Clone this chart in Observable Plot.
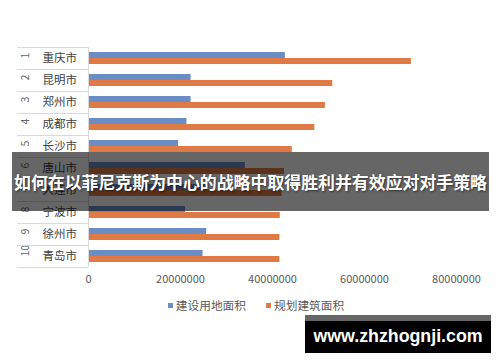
<!DOCTYPE html>
<html><head><meta charset="utf-8">
<script src="https://cdn.jsdelivr.net/npm/d3@7"></script>
<script src="https://cdn.jsdelivr.net/npm/@observablehq/plot@0.6"></script>
<style>
body{margin:0;background:#fff;}
#wrap{position:relative;width:500px;height:362px;overflow:hidden;font-family:"Noto Sans CJK SC","Noto Sans",sans-serif;}
#wrap svg{position:absolute;left:0;top:0;}
#legend{position:absolute;left:6px;top:296px;width:500px;text-align:center;font-size:11.7px;color:#595959;line-height:18px;white-space:nowrap;}
#legend span.sw{display:inline-block;width:5px;height:5px;margin-right:3px;vertical-align:middle;position:relative;top:-1px;}
#legend span.item{margin:0 10px;}
#banner{position:absolute;left:12px;top:152px;width:477px;height:59px;background:rgba(0,0,0,0.6);color:#fff;font-weight:bold;font-size:16.9px;line-height:59px;text-align:center;white-space:nowrap;text-shadow:1px 1px 2px rgba(0,0,0,0.5);}
#wm{position:absolute;left:305px;top:315px;width:186px;height:38px;background:#000;border-top:6px solid #666;box-sizing:border-box;color:#fff;font-family:"Liberation Sans",Arial,sans-serif;font-weight:bold;font-size:17.8px;line-height:31px;text-align:center;white-space:nowrap;}
</style></head><body><div id="wrap"></div>
<script>
const ranks = ["1","2","3","4","5","6","7","8","9","10"];
const cities = ["重庆市","昆明市","郑州市","成都市","长沙市","唐山市","大连市","宁波市","徐州市","青岛市"];
const landArea = [42.8e6, 22.3e6, 22.3e6, 21.4e6, 19.6e6, 34.1e6, 26.0e6, 21.1e6, 25.7e6, 24.9e6];
const buildArea = [70.2e6, 53.1e6, 51.5e6, 49.2e6, 44.3e6, 42.6e6, 42.1e6, 41.7e6, 41.6e6, 41.6e6];
const seriesNames = ["建设用地面积", "规划建筑面积"];
const seriesColors = ["#6b8dc6", "#e07a45"];
const xTicks = [0, 20000000, 40000000, 60000000, 80000000];
const bannerText = "如何在以菲尼克斯为中心的战略中取得胜利并有效应对对手策略";
const watermarkText = "www.zhzhognji.com";

const rows = cities.map((c, i) => ({rank: ranks[i], city: c, land: landArea[i], build: buildArea[i]}));

const plot = Plot.plot({
  width: 500, height: 362,
  marginLeft: 88, marginRight: 44, marginTop: 47, marginBottom: 95,
  style: {fontFamily: '"Noto Sans CJK SC","Noto Sans",sans-serif', fontSize: "11px", color: "#595959", background: "transparent", overflow: "visible"},
  x: {domain: [0, 80000000], ticks: xTicks, tickFormat: d3.format("d"), tickSize: 0, tickPadding: 8, label: null},
  y: {domain: cities, padding: 0, axis: null},
  marks: [
    Plot.barX(rows, {x: "land", y: "city", fill: seriesColors[0], insetTop: 5, insetBottom: 11}),
    Plot.barX(rows, {x: "build", y: "city", fill: seriesColors[1], insetTop: 11, insetBottom: 5}),
    Plot.ruleX([0], {stroke: "#d9d9d9"}),
    Plot.text(rows, {y: "city", text: "city", frameAnchor: "left", dx: -46, textAnchor: "start", fontSize: 11.5, fill: "#404040"}),
    Plot.text(rows, {y: "city", text: "rank", frameAnchor: "left", dx: -63, rotate: -90, fontSize: 10.5, fill: "#666666"})
  ]
});

const wrap = document.getElementById("wrap");
wrap.appendChild(plot);

// label panel separators drawn from the y scale
const ys = plot.scale("y");
const x0 = plot.scale("x").apply(0);
const step = ys.step;
const g = d3.select(plot).append("g").attr("stroke", "#d9d9d9").attr("stroke-width", 1);
ys.domain.forEach((c, i) => {
  const top = Math.round(ys.apply(c)) + 0.5;
  g.append("line").attr("x1", 17).attr("x2", x0).attr("y1", top).attr("y2", top);
  if (i === ys.domain.length - 1) {
    const b = Math.round(ys.apply(c) + step) + 0.5;
    g.append("line").attr("x1", 17).attr("x2", x0).attr("y1", b).attr("y2", b);
  }
});

// legend
const legend = document.createElement("div");
legend.id = "legend";
seriesNames.forEach((n, i) => {
  const it = document.createElement("span");
  it.className = "item";
  const sw = document.createElement("span");
  sw.className = "sw";
  sw.style.background = seriesColors[i];
  it.appendChild(sw);
  it.appendChild(document.createTextNode(n));
  legend.appendChild(it);
});
wrap.appendChild(legend);

const banner = document.createElement("div");
banner.id = "banner";
banner.textContent = bannerText;
wrap.appendChild(banner);

const wm = document.createElement("div");
wm.id = "wm";
wm.textContent = watermarkText;
wrap.appendChild(wm);
</script>
</body></html>
